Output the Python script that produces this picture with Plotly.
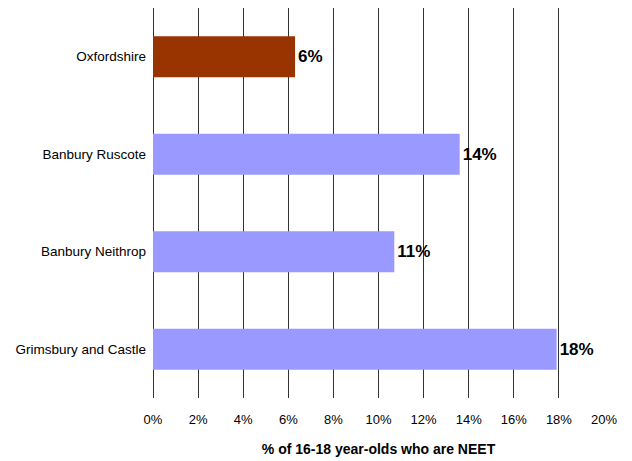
import plotly.graph_objects as go

categories = ["Oxfordshire", "Banbury Ruscote", "Banbury Neithrop", "Grimsbury and Castle"]
values = [0.063, 0.136, 0.107, 0.179]
colors = ["#993300", "#9999FF", "#9999FF", "#9999FF"]
tick_vals = [0, 0.02, 0.04, 0.06, 0.08, 0.10, 0.12, 0.14, 0.16, 0.18, 0.20]

fig = go.Figure(go.Bar(
    y=categories, x=values, orientation="h",
    marker=dict(color=colors, line=dict(width=0)),
    width=0.42,
    texttemplate="%{x:.0%}", textposition="outside",
    textfont=dict(family="Liberation Sans, Arial", size=17, color="black", weight="bold"),
    cliponaxis=False,
))

fig.update_layout(
    width=632, height=461,
    margin=dict(l=145, r=36, t=0, b=71),
    paper_bgcolor="white", plot_bgcolor="white",
    font=dict(family="Liberation Sans, Arial", size=13, color="black"),
    showlegend=False,
)
fig.update_xaxes(
    range=[0, 0.20], tickvals=tick_vals, tickformat=".0%",
    showgrid=True, gridcolor="#333333", gridwidth=1,
    zeroline=True, zerolinecolor="#333333", zerolinewidth=1,
    showline=False, ticks="", ticklabelstandoff=12, automargin=False,
    tickfont=dict(size=13),
    title=dict(text="<b>% of 16-18 year-olds who are NEET</b>", font=dict(size=14), standoff=18),
)
fig.update_yaxes(
    autorange="reversed", showgrid=False, ticks="", showline=False,
    ticklabelstandoff=6, automargin=False, tickfont=dict(size=13.5),
)

fig.write_html("out.html")
